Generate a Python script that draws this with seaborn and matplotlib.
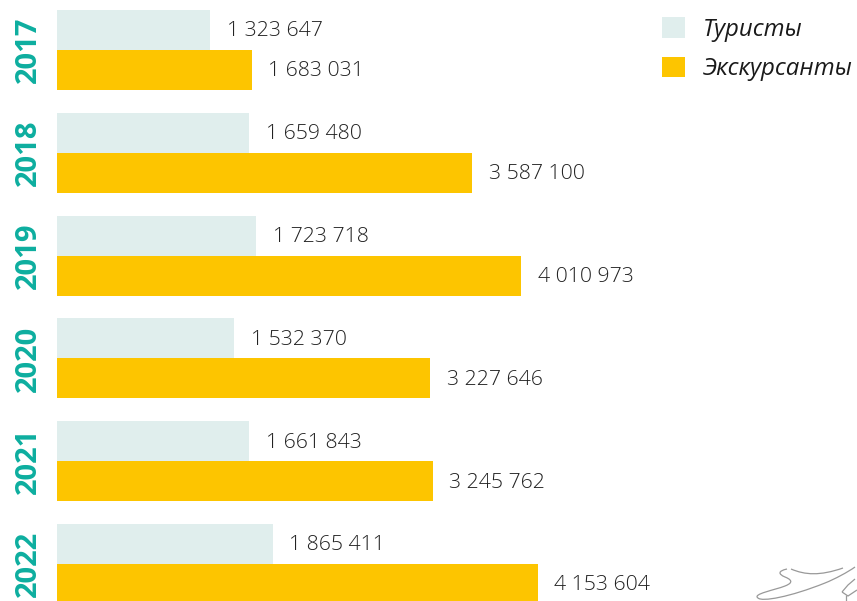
import pandas as pd
import matplotlib.pyplot as plt
import seaborn as sns
from matplotlib.path import Path
from matplotlib.patches import PathPatch

years = ['2017', '2018', '2019', '2020', '2021', '2022']
tourists = [1323647, 1659480, 1723718, 1532370, 1661843, 1865411]
excursionists = [1683031, 3587100, 4010973, 3227646, 3245762, 4153604]
series_names = ['Туристы', 'Экскурсанты']
series_colors = ['#e0eeed', '#fdc500']

sns.set_style('white')
plt.rcParams['font.family'] = ['Open Sans', 'DejaVu Sans']

df = pd.DataFrame({
    'year': years * 2,
    'value': tourists + excursionists,
    'kind': [series_names[0]] * 6 + [series_names[1]] * 6,
})

fig = plt.figure(figsize=(8.57, 6.01), dpi=100)
ax = fig.add_axes([57 / 857, 0, 800 / 857, 1])
sns.barplot(data=df, y='year', x='value', hue='kind', palette=series_colors,
            width=0.778, gap=0, saturation=1, errorbar=None, linewidth=0, ax=ax)

# px per unit comes from the bars of the picture
ax.set_xlim(0, 800 / 1.157e-4)
ax.set_ylim(551 / 102.8, -50 / 102.8)
ax.set_xlabel('')
ax.set_ylabel('')
ax.set_xticks([])
sns.despine(ax=ax, left=True, bottom=True)

ax.tick_params(axis='y', length=0, pad=10.3)
for lab in ax.get_yticklabels():
    lab.set_rotation(90)
    lab.set_va('center')
    lab.set_fontsize(21)
    lab.set_fontweight('bold')
    lab.set_color('#0dae9f')

for cont in ax.containers:
    texts = ax.bar_label(cont, labels=['{:,}'.format(int(b.get_width())).replace(',', ' ') for b in cont],
                         padding=12, fontsize=15.3, fontweight='light', color='#222222')
    for t in texts:
        t.xyann = (t.xyann[0], t.xyann[1] - 1)

ax.legend(loc='upper left', bbox_to_anchor=(605 / 800, 1 - 17 / 601), frameon=False,
          prop={'size': 17.3, 'style': 'italic'}, handlelength=0.96, handleheight=0.96,
          handletextpad=0.75, labelspacing=0.62, borderpad=0, borderaxespad=0,
          labelcolor='#1a1a1a')

# the little sketch in the corner
def px(x, y):
    return (x / 857, 1 - y / 601)

C = Path.CURVE4
sketch = [
    ([(791, 569), (805, 575), (820, 576), (843, 568)], [Path.MOVETO, C, C, C]),
    ([(787, 569), (778, 571), (778, 574), (785, 577), (795, 581), (790, 584), (785, 586),
      (775, 590), (752, 594), (758, 598), (762, 602), (790, 597), (825, 583),
      (835, 579), (848, 572), (855, 567)],
     [Path.MOVETO] + [C] * 15),
    ([(855, 579), (848, 585), (842, 592)], [Path.MOVETO, Path.LINETO, Path.LINETO]),
    ([(842, 592), (848, 596), (857, 590)], [Path.MOVETO, Path.LINETO, Path.LINETO]),
    ([(846, 595), (846, 601)], [Path.MOVETO, Path.LINETO]),
]
for pts, codes in sketch:
    fig.add_artist(PathPatch(Path([px(*p) for p in pts], codes), fill=False, edgecolor='#999999',
                             linewidth=0.9, transform=fig.transFigure))

fig.savefig('out.png', dpi=100)
